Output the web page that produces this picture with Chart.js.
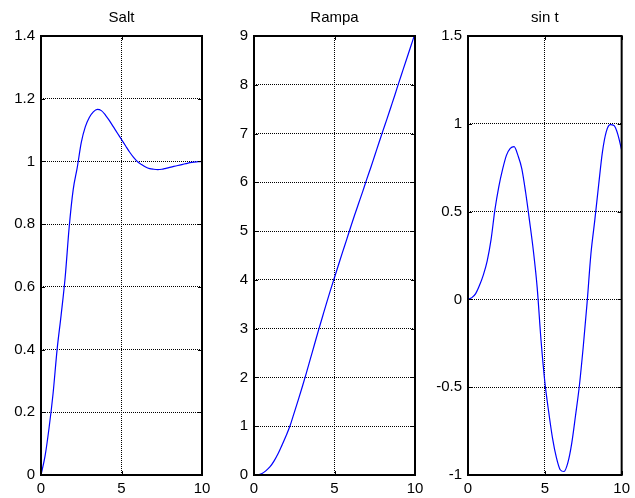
<!DOCTYPE html>
<html>
<head>
<meta charset="utf-8">
<script src="https://cdn.jsdelivr.net/npm/chart.js@4.4.0/dist/chart.umd.min.js"></script>
<style>
  body { margin: 0; background: #fff; }
  #wrap { position: relative; width: 635px; height: 498px; }
  canvas { position: absolute; left: 0; top: 0; }
</style>
</head>
<body>
<div id="wrap">
  <canvas id="salt" width="635" height="498"></canvas>
  <canvas id="rampa" width="635" height="498"></canvas>
  <canvas id="sinus" width="635" height="498"></canvas>
</div>
<script>
// temps (s), comú a les tres respostes
const temps = [0, 0.25, 0.5, 0.75, 1, 1.25, 1.5, 1.75, 2, 2.25, 2.5, 2.75, 3, 3.25, 3.5, 3.75, 4, 4.25, 4.5, 4.75,
               5, 5.25, 5.5, 5.75, 6, 6.25, 6.5, 6.75, 7, 7.25, 7.5, 7.75, 8, 8.25, 8.5, 8.75, 9, 9.25, 9.5, 9.75, 10];

// resposta al salt
const salt = [0, 0.06, 0.15, 0.26, 0.40, 0.51, 0.63, 0.79, 0.91, 0.98, 1.06, 1.11, 1.14, 1.158, 1.166, 1.162, 1.148, 1.13, 1.11, 1.09,
              1.07, 1.05, 1.03, 1.013, 0.999, 0.99, 0.982, 0.977, 0.975, 0.974, 0.975, 0.978, 0.981, 0.984, 0.987, 0.99, 0.993, 0.996, 0.998, 0.999, 1.0];

// resposta a la rampa
const rampa = [0, 0.003, 0.03, 0.09, 0.17, 0.29, 0.44, 0.62, 0.81, 1.02, 1.28, 1.54, 1.81, 2.09, 2.38, 2.67, 2.96, 3.24, 3.52, 3.79,
               4.05, 4.31, 4.57, 4.82, 5.08, 5.33, 5.57, 5.81, 6.06, 6.30, 6.55, 6.80, 7.05, 7.29, 7.54, 7.79, 8.05, 8.30, 8.55, 8.80, 9.05];

// resposta a sin t
const sinus = [0, 0.01, 0.033, 0.08, 0.14, 0.22, 0.34, 0.51, 0.64, 0.74, 0.82, 0.86, 0.87, 0.82, 0.745, 0.61, 0.45, 0.28, 0.07, -0.23,
               -0.47, -0.64, -0.79, -0.90, -0.97, -0.98, -0.93, -0.82, -0.66, -0.49, -0.27, -0.02, 0.26, 0.45, 0.65, 0.84, 0.955, 0.995, 0.99, 0.94, 0.85];

// marques dels eixos
const xTicks = [0, 5, 10];
const yTicksSalt = [0, 0.2, 0.4, 0.6, 0.8, 1, 1.2, 1.4];
const yTicksRampa = [0, 1, 2, 3, 4, 5, 6, 7, 8, 9];
const yTicksSinus = [-1, -0.5, 0, 0.5, 1, 1.5];

const font = { family: "'Liberation Sans', Arial, sans-serif", size: 15 };

// caixa negra i marques cap endins, com a MATLAB
const caixa = {
    id: 'caixa',
    afterDatasetsDraw(chart) {
        const a = chart.chartArea, ctx = chart.ctx;
        const sx = chart.scales.x, sy = chart.scales.y;
        ctx.save();
        ctx.strokeStyle = '#000';
        ctx.lineWidth = 1;
        ctx.beginPath();
        sx.ticks.forEach(t => {
            const px = Math.round(sx.getPixelForValue(t.value)) + 0.5;
            ctx.moveTo(px, a.bottom); ctx.lineTo(px, a.bottom - 4);
            ctx.moveTo(px, a.top); ctx.lineTo(px, a.top + 4);
        });
        sy.ticks.forEach(t => {
            const py = Math.round(sy.getPixelForValue(t.value)) + 0.5;
            ctx.moveTo(a.left, py); ctx.lineTo(a.left + 4, py);
            ctx.moveTo(a.right, py); ctx.lineTo(a.right - 4, py);
        });
        ctx.stroke();
        ctx.lineWidth = 2;
        ctx.strokeRect(a.left, a.top, a.right - a.left, a.bottom - a.top);
        ctx.restore();
    }
};

function grafic(id, titol, y, yTicks, left, right) {
    return new Chart(document.getElementById(id), {
        type: 'line',
        data: {
            datasets: [{
                data: temps.map((t, i) => ({ x: t, y: y[i] })),
                borderColor: '#0000ff',
                borderWidth: 1.2,
                pointRadius: 0,
                cubicInterpolationMode: 'monotone',
                fill: false
            }]
        },
        options: {
            responsive: false,
            animation: false,
            events: [],
            layout: { padding: { left: 0, right: 635 - right, top: 0, bottom: 0 } },
            plugins: {
                legend: { display: false },
                tooltip: { enabled: false },
                title: {
                    display: true,
                    fullSize: false,
                    text: titol,
                    color: '#000',
                    font: { family: font.family, size: 15, weight: 'normal' },
                    padding: { top: 9, bottom: 9 }
                }
            },
            scales: {
                x: {
                    type: 'linear',
                    min: 0, max: 10,
                    afterBuildTicks: ax => { ax.ticks = xTicks.map(v => ({ value: v })); },
                    afterFit: ax => { ax.height = 23; },
                    ticks: { color: '#000', font: font, padding: 5, maxRotation: 0, autoSkip: false, callback: v => String(v) },
                    grid: { color: '#000', lineWidth: 1, drawTicks: false },
                    border: { display: false, dash: [1, 1] }
                },
                y: {
                    min: yTicks[0], max: yTicks[yTicks.length - 1],
                    afterBuildTicks: ax => { ax.ticks = yTicks.map(v => ({ value: v })); },
                    afterFit: ax => { ax.width = left; },
                    ticks: { color: '#000', font: font, padding: 6, autoSkip: false, callback: v => String(v) },
                    grid: { color: '#000', lineWidth: 1, drawTicks: false },
                    border: { display: false, dash: [1, 1] }
                }
            }
        },
        plugins: [caixa]
    });
}

grafic('salt', 'Salt', salt, yTicksSalt, 41, 202);
grafic('rampa', 'Rampa', rampa, yTicksRampa, 254, 415);
grafic('sinus', 'sin t', sinus, yTicksSinus, 468, 629);
</script>
</body>
</html>
